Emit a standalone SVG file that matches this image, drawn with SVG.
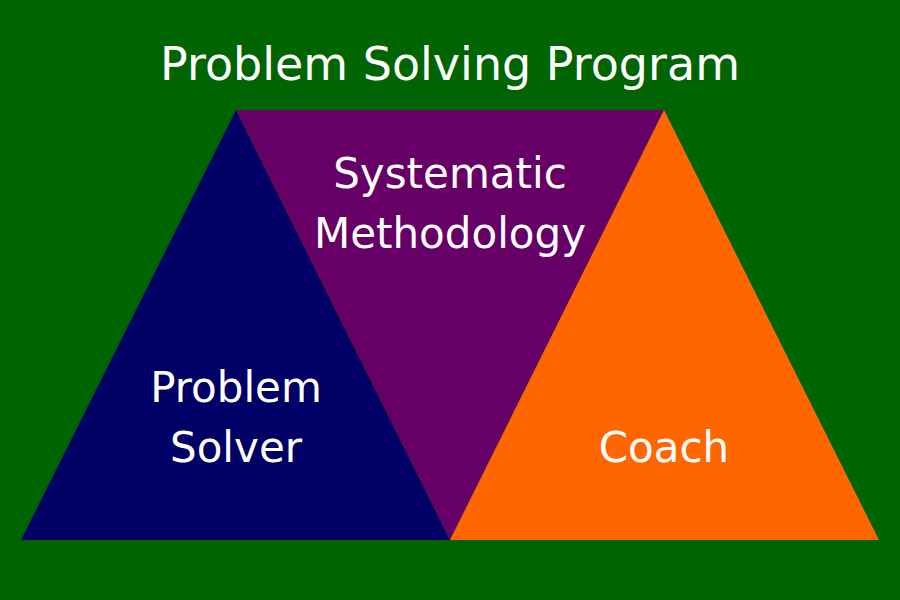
<svg xmlns="http://www.w3.org/2000/svg" width="900" height="600" viewBox="0 0 900 600">
<style>
text{font-family:"DejaVu Sans","Liberation Sans",sans-serif;fill:#fff;text-anchor:middle}
.t{font-size:46px}
.l{font-size:42px}
</style>
<rect width="900" height="600" fill="#006400"/>
<text class="t" x="450" y="80">Problem Solving Program</text>
<g id="solver"><polygon points="236,110 21,540 450,540" fill="#000066"/>
<text class="l" x="236" y="402">Problem</text><text class="l" x="236" y="462">Solver</text></g>
<g id="method"><polygon points="236,110 664,110 450,540" fill="#660066"/>
<text class="l" x="450" y="188">Systematic</text><text class="l" x="450" y="248">Methodology</text></g>
<g id="coach"><polygon points="664,110 450,540 879,540" fill="#FF6600"/>
<text class="l" x="664" y="462">Coach</text></g>
<g id="connectors"/>
</svg>
